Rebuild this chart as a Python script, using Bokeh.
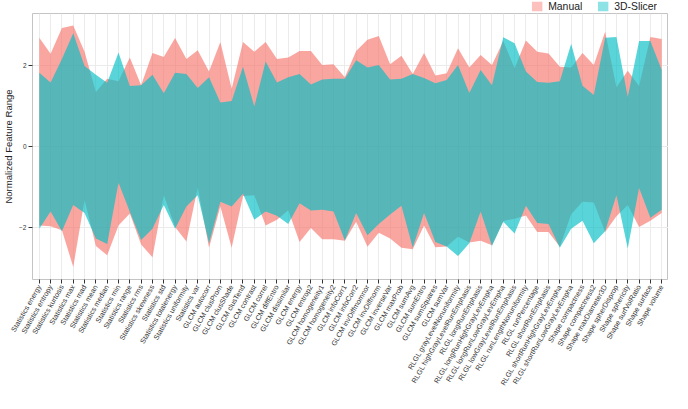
import math
from bokeh.plotting import figure
from bokeh.layouts import column
from bokeh.models import Range1d, FixedTicker, Legend, LegendItem, ColumnDataSource
from bokeh.embed import file_html
from bokeh.resources import INLINE

features = [
    "Statistics energy", "Statistics entropy", "Statistics kurtosis", "Statistics max",
    "Statistics mad", "Statistics mean", "Statistics median", "Statistics min",
    "Statistics range", "Statistics rms", "Statistics skewness", "Statistics std",
    "Statistics totalenergy", "Statistics uniformity", "Statistics var",
    "GLCM autocorr", "GLCM clusProm", "GLCM clusShade", "GLCM clusTend", "GLCM contrast",
    "GLCM correl", "GLCM diffEntro", "GLCM dissimilar", "GLCM energy", "GLCM entrop2",
    "GLCM homogeneity1", "GLCM homogeneity2", "GLCM infoCorr1", "GLCM infoCorr2",
    "GLCM invDiffmomnor", "GLCM invDiffnorm", "GLCM inverseVar", "GLCM maxProb",
    "GLCM sumAvg", "GLCM sumEntro", "GLCM sumSquares", "GLCM sumVar",
    "RLGL grayLevelNonuniformity", "RLGL highGrayLevelRunEmphasis", "RLGL longRunEmphasis",
    "RLGL longRunHighGrayLevEmpha", "RLGL longRunLowGrayLevEmpha",
    "RLGL lowGrayLevelRunEmphasis", "RLGL runLengthNonuniformity", "RLGL runPercentage",
    "RLGL shortRunEmphasis", "RLGL shortRunHighGrayLevEmpha", "RLGL shortRunLowGrayLevEmpha",
    "Shape compactness", "Shape compactness2", "Shape maxDiameter3D", "Shape spherDisprop",
    "Shape sphericity", "Shape surfVolRatio", "Shape surface", "Shape volume",
]

manual_max = [2.70, 2.30, 2.94, 3.00, 2.35, 1.35, 1.68, 1.62, 2.21, 1.52,
              2.32, 2.22, 2.69, 2.17, 2.39, 1.86, 2.59, 1.43, 2.59, 2.35,
              2.59, 2.17, 2.21, 2.37, 2.37, 2.02, 2.04, 1.72, 2.37, 2.65,
              2.74, 2.04, 2.25, 1.80, 2.32, 1.76, 1.82, 2.44, 1.96, 2.27,
              2.02, 2.62, 1.94, 2.63, 2.35, 2.31, 1.98, 1.96, 2.32, 2.02,
              2.85, 1.47, 1.88, 1.50, 2.72, 2.67]
manual_min = [-1.96, -1.98, -2.08, -2.99, -1.33, -2.47, -2.70, -1.96, -1.66, -2.43,
              -2.75, -1.21, -2.00, -2.36, -1.02, -2.51, -1.49, -2.51, -1.23, -1.21,
              -1.96, -1.82, -1.58, -2.37, -2.02, -2.30, -2.30, -2.34, -1.87, -2.49,
              -2.14, -2.28, -2.51, -2.55, -1.96, -2.50, -2.48, -2.24, -2.38, -2.34,
              -2.45, -1.85, -1.79, -1.71, -2.12, -2.12, -2.49, -1.68, -1.37, -1.39,
              -2.12, -1.73, -1.45, -2.00, -1.84, -1.65]
slicer_max = [1.83, 1.59, 2.17, 2.81, 2.00, 1.78, 1.58, 2.33, 1.50, 1.52,
              1.78, 1.32, 1.83, 1.80, 1.45, 1.72, 1.09, 1.13, 1.98, 0.99,
              2.11, 1.59, 1.72, 1.80, 1.54, 1.66, 1.68, 1.68, 2.14, 1.96,
              2.02, 1.66, 1.68, 1.80, 1.70, 1.57, 1.65, 2.02, 1.33, 1.90,
              1.52, 2.71, 2.56, 1.86, 1.60, 1.58, 1.62, 2.55, 1.51, 1.28,
              2.70, 2.72, 1.23, 2.62, 2.62, 1.90]
slicer_min = [-2.04, -1.61, -2.10, -1.45, -1.65, -2.28, -2.42, -0.90, -1.62, -2.32,
              -2.04, -1.45, -2.04, -1.49, -1.21, -2.40, -1.37, -1.49, -1.17, -1.82,
              -1.61, -1.72, -1.92, -1.41, -1.59, -1.57, -1.61, -2.33, -1.65, -2.20,
              -1.92, -1.69, -1.47, -2.51, -1.65, -2.37, -2.48, -2.72, -2.40, -1.61,
              -2.47, -1.87, -2.16, -1.47, -1.90, -1.92, -2.51, -2.04, -1.84, -2.40,
              -2.10, -1.21, -2.53, -1.03, -1.77, -1.57]

series_names = ["Manual", "3D-Slicer"]
series_colors = ["#F8766D", "#00BFC4"]
y_ticks = [-2, 0, 2]

FONT = "Liberation Sans"
FRAME_W = 636
FRAME_H = 266
LEG_H = 12

positions = list(range(1, len(features) + 1))

# ---- legend strip above the panel ----
leg = figure(
    width=657, height=LEG_H,
    x_range=Range1d(0, 1), y_range=Range1d(0, 1),
    x_axis_location=None, y_axis_location=None,
    output_backend="svg", toolbar_location=None,
    min_border=0,
)
leg.outline_line_color = None
leg.grid.visible = False
k1 = leg.rect(x=[-50], y=[-50], width=1, height=1, fill_color=series_colors[0], fill_alpha=0.45, line_color=None)
k2 = leg.rect(x=[-50], y=[-50], width=1, height=1, fill_color=series_colors[1], fill_alpha=0.45, line_color=None)
legend = Legend(items=[LegendItem(label=series_names[0], renderers=[k1]),
                       LegendItem(label=series_names[1], renderers=[k2])],
                orientation="horizontal", location="top_right",
                glyph_width=13, glyph_height=LEG_H, label_height=LEG_H, label_standoff=5,
                spacing=14, padding=0, margin=0,
                label_text_font=FONT, label_text_font_size="10.4px", label_text_color="#222222",
                border_line_color=None, background_fill_alpha=0)
leg.add_layout(legend)

# ---- main panel ----
p = figure(
    x_range=Range1d(0.4, len(features) + 0.6),
    y_range=Range1d(-3.3, 3.3),
    frame_width=FRAME_W, frame_height=FRAME_H,
    output_backend="svg", toolbar_location=None,
    min_border_left=0, min_border_right=0, min_border_top=1, min_border_bottom=0,
)

src = ColumnDataSource(dict(x=positions, mmin=manual_min, mmax=manual_max,
                            smin=slicer_min, smax=slicer_max))
p.varea(x="x", y1="mmin", y2="mmax", source=src, fill_color=series_colors[0], fill_alpha=0.65)
p.varea(x="x", y1="smin", y2="smax", source=src, fill_color=series_colors[1], fill_alpha=0.65)

p.xaxis.ticker = FixedTicker(ticks=positions)
p.xgrid.ticker = FixedTicker(ticks=positions)
p.xaxis.major_label_overrides = {i: f for i, f in zip(positions, features)}
p.xaxis.major_label_orientation = math.radians(60)
p.xaxis.major_label_text_font = FONT
p.xaxis.major_label_text_font_size = "7.2px"
p.xaxis.major_label_text_color = "#333333"
p.xaxis.major_label_standoff = 2
p.xaxis.axis_line_color = None
p.xaxis.major_tick_in = 0
p.xaxis.major_tick_out = 4
p.xaxis.major_tick_line_color = "#333333"
p.xaxis.minor_tick_line_color = None

p.yaxis.ticker = FixedTicker(ticks=y_ticks)
p.ygrid.ticker = FixedTicker(ticks=y_ticks)
p.yaxis.axis_label = "Normalized Feature Range"
p.yaxis.axis_label_text_font = FONT
p.yaxis.axis_label_text_font_size = "9.5px"
p.yaxis.axis_label_text_font_style = "normal"
p.yaxis.axis_label_text_color = "#222222"
p.yaxis.axis_label_standoff = 2
p.yaxis.major_label_text_font = FONT
p.yaxis.major_label_text_font_size = "6.5px"
p.yaxis.major_label_text_color = "#333333"
p.yaxis.major_label_standoff = 2
p.yaxis.axis_line_color = None
p.yaxis.major_tick_in = 0
p.yaxis.major_tick_out = 4
p.yaxis.major_tick_line_color = "#333333"
p.yaxis.minor_tick_line_color = None

p.xgrid.grid_line_color = "#EBEBEB"
p.ygrid.grid_line_color = "#EBEBEB"
p.outline_line_color = "#C4C4C4"

layout = column(leg, p, spacing=0)
open("out.html", "w").write(file_html(layout, INLINE))
